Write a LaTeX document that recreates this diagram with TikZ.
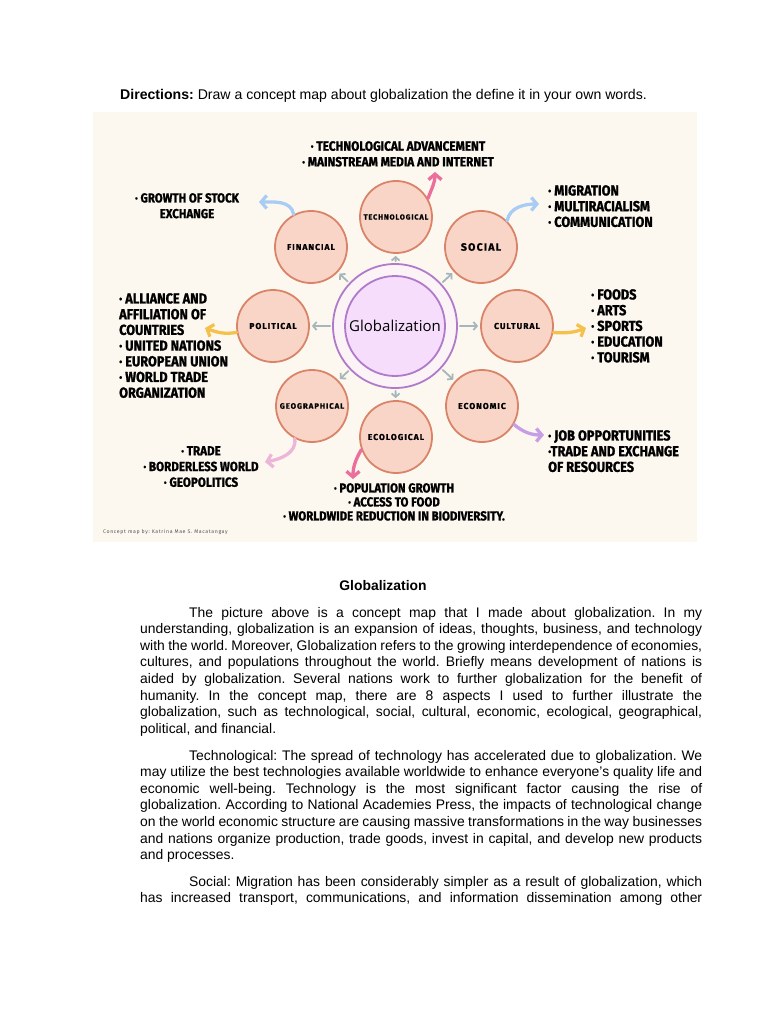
\documentclass[tikz,border=0pt]{standalone}
\usepackage{fontspec}
\setmainfont{Liberation Sans}
\newfontfamily\hand[FakeStretch=0.88,BoldFeatures={FakeBold=1.2}]{Fira Sans}
\newfontfamily\labf[LetterSpace=12,BoldFeatures={FakeBold=0.8}]{Fira Sans}
\newfontfamily\credf[LetterSpace=12]{Fira Sans}
\newfontfamily\glob{Open Sans}
\usetikzlibrary{arrows.meta}
\definecolor{bgmap}{HTML}{FDF8EF}
\definecolor{circfill}{HTML}{F9D5C8}
\definecolor{circedge}{HTML}{D98468}
\definecolor{ringc}{HTML}{B07ACB}
\definecolor{ringfill}{HTML}{FCF3F6}
\definecolor{innerfill}{HTML}{F5DDFB}
\definecolor{garr}{HTML}{A6B6BB}
\definecolor{pinkc}{HTML}{EC6E9B}
\definecolor{bluec}{HTML}{A8CCF4}
\definecolor{yellowc}{HTML}{F4C24C}
\definecolor{lpinkc}{HTML}{EDB6D9}
\definecolor{purplec}{HTML}{C79EE6}
\definecolor{credc}{HTML}{555555}
\begin{document}
\frenchspacing
\begin{tikzpicture}[x=1pt,y=-1pt,
  circ/.style={circle,draw=circedge,fill=circfill,line width=1.8pt,minimum size=72pt,inner sep=0pt},
  lab/.style={font=\labf\bfseries\fontsize{#1}{#1}\selectfont},
  lab/.default=8.5,
  garrow/.style={draw=garr,line width=1.8pt,line cap=round,-{Straight Barb[length=3.5pt,width=8pt]},shorten <=2pt,shorten >=2pt},
  carrow/.style={line width=3.3pt,line cap=round,-{Straight Barb[length=5.5pt,width=13pt]}},
  hand/.style={font=\hand\bfseries\fontsize{#1}{15.7}\selectfont,inner sep=0pt},
  hand/.default=14.5,
  body/.style={font=\fontsize{13.9}{16}\selectfont,inner sep=0pt,anchor=base west}
]
\useasboundingbox (0,0) rectangle (768,1024);
\fill[white] (0,0) rectangle (768,1024);
\fill[bgmap] (93,112) rectangle (697,542);

% header
\node[body,font=\fontsize{14.1}{16}\selectfont] (dir) at (120,100) {\textbf{Directions:} Draw a concept map about globalization the define it in your own words.};

% centre
\node[circle,draw=ringc,line width=1.8pt,fill=ringfill,minimum size=124pt,inner sep=0pt] (g) at (395,326) {};
\node[circle,draw=ringc,line width=1.8pt,fill=innerfill,minimum size=100pt,inner sep=0pt,font=\glob\fontsize{15}{16}\selectfont] (gin) at (395,326) {Globalization};

% aspects
\node[circ,lab=7.3] (tech) at (396,217) {TECHNOLOGICAL};
\node[circ,lab=8.5] (fin) at (311,247) {FINANCIAL};
\node[circ,lab=10.5] (soc) at (481,247) {SOCIAL};
\node[circ,lab=8.5] (pol) at (273,326) {POLITICAL};
\node[circ,lab=8.5] (cul) at (517,326) {CULTURAL};
\node[circ,lab=7.8] (geo) at (312,406) {GEOGRAPHICAL};
\node[circ,lab=8.5] (econ) at (482,406) {ECONOMIC};
\node[circ,lab=8.5] (eco) at (396,437) {ECOLOGICAL};

\foreach \n in {tech,fin,soc,pol,cul,geo,eco,econ} \draw[garrow] (g) -- (\n);

% coloured arrows
\coordinate (ttip) at (435,172);
\coordinate (ftip) at (259,202);
\coordinate (stip) at (539,204);
\coordinate (ptip) at (205,328);
\coordinate (ctip) at (586,328);
\coordinate (gtip) at (265,462);
\coordinate (etip) at (353,479);
\coordinate (ntip) at (544,435);
\draw[carrow,draw=pinkc] (tech.30) to[out=70,in=-90] (ttip);
\draw[carrow,draw=bluec] (fin.118) to[out=100,in=0] (ftip);
\draw[carrow,draw=bluec] (soc.45) to[out=80,in=180] (stip);
\draw[carrow,draw=yellowc] (pol.190) to[out=190,in=-20] (ptip);
\draw[carrow,draw=yellowc] (cul.-10) to[out=-5,in=200] (ctip);
\draw[carrow,draw=lpinkc] (geo.242) to[out=-80,in=10] (gtip);
\draw[carrow,draw=pinkc] (eco.200) to[out=240,in=90] (etip);
\draw[carrow,draw=purplec] (econ.-30) to[out=-40,in=180] (ntip);

% texts
\node[hand=13.4,anchor=north,align=center] (ttext) at (398,141) {· TECHNOLOGICAL ADVANCEMENT\\· MAINSTREAM MEDIA AND INTERNET};
\node[hand=13,anchor=north,align=center] (ftext) at (187,193) {· GROWTH OF STOCK\\EXCHANGE};
\node[hand,anchor=north west,align=left] (stext) at (548,185) {· MIGRATION\\· MULTIRACIALISM\\· COMMUNICATION};
\node[hand,anchor=north west,align=left] (ptext) at (119,293) {· ALLIANCE AND\\AFFILIATION OF\\COUNTRIES\\· UNITED NATIONS\\· EUROPEAN UNION\\· WORLD TRADE\\ORGANIZATION};
\node[hand,anchor=north west,align=left] (ctext) at (591,289) {· FOODS\\· ARTS\\· SPORTS\\· EDUCATION\\· TOURISM};
\node[hand=13.2,anchor=north,align=center] (gtext) at (201,446) {· TRADE\\· BORDERLESS WORLD\\· GEOPOLITICS};
\node[hand,anchor=north,align=center,font=\hand\bfseries\fontsize{13}{14}\selectfont] (etext) at (394,483) {· POPULATION GROWTH\\· ACCESS TO FOOD\\· WORLDWIDE REDUCTION IN BIODIVERSITY.};
\node[hand,anchor=north west,align=left] (ntext) at (548,430) {· JOB OPPORTUNITIES\\·TRADE AND EXCHANGE\\OF RESOURCES};
\node[anchor=west,inner sep=0pt,text=credc,font=\credf\fontsize{5.2}{6}\selectfont] (cred) at (103,532) {Concept map by: Katrina Mae S. Macatangay};

% body
\node[body,anchor=base] (head) at (383,590) {\textbf{Globalization}};
\node[body] (a1) at (189,617) {\makebox[513pt][s]{The picture above is a concept map that I made about globalization. In my}};
\node[body] (a2) at (140,633.6) {\makebox[562pt][s]{understanding, globalization is an expansion of ideas, thoughts, business, and technology}};
\node[body] (a3) at (140,650.2) {\makebox[562pt][s]{with the world. Moreover, Globalization refers to the growing interdependence of economies,}};
\node[body] (a4) at (140,666.8) {\makebox[562pt][s]{cultures, and populations throughout the world. Briefly means development of nations is}};
\node[body] (a5) at (140,683.4) {\makebox[562pt][s]{aided by globalization. Several nations work to further globalization for the benefit of}};
\node[body] (a6) at (140,700) {\makebox[562pt][s]{humanity. In the concept map, there are 8 aspects I used to further illustrate the}};
\node[body] (a7) at (140,716.6) {\makebox[562pt][s]{globalization, such as technological, social, cultural, economic, ecological, geographical,}};
\node[body] (a8) at (140,733.2) {political, and financial.};

\node[body] (b1) at (189,760) {\makebox[513pt][s]{Technological: The spread of technology has accelerated due to globalization. We}};
\node[body] (b2) at (140,776.6) {\makebox[562pt][s]{may utilize the best technologies available worldwide to enhance everyone’s quality life and}};
\node[body] (b3) at (140,793.2) {\makebox[562pt][s]{economic well-being. Technology is the most significant factor causing the rise of}};
\node[body] (b4) at (140,809.8) {\makebox[562pt][s]{globalization. According to National Academies Press, the impacts of technological change}};
\node[body] (b5) at (140,826.4) {\makebox[562pt][s]{on the world economic structure are causing massive transformations in the way businesses}};
\node[body] (b6) at (140,843) {\makebox[562pt][s]{and nations organize production, trade goods, invest in capital, and develop new products}};
\node[body] (b7) at (140,859.6) {and processes.};

\node[body] (c1) at (189,886) {\makebox[513pt][s]{Social: Migration has been considerably simpler as a result of globalization, which}};
\node[body] (c2) at (140,902.6) {\makebox[562pt][s]{has increased transport, communications, and information dissemination among other}};
\end{tikzpicture}
\end{document}
